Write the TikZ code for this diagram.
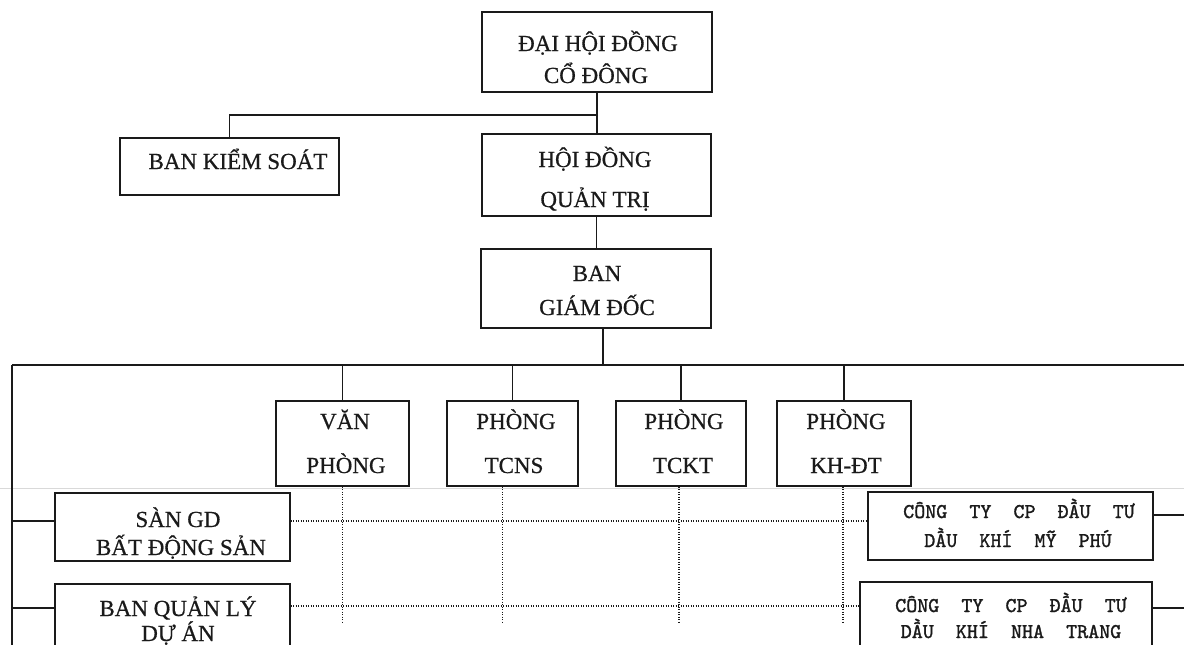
\documentclass[tikz,border=0pt]{standalone}
\usepackage{fontspec}
\setmainfont{Liberation Serif}[FakeBold=0.6]
\newfontfamily\monof{lmmono10-regular.otf}[FakeBold=1.4]
\definecolor{ink}{HTML}{1A1A1A}
\begin{document}
\begin{tikzpicture}[x=1pt,y=-1pt,
  box/.style={draw=ink, line width=1.2pt, inner sep=0pt},
  sf/.style={font=\fontsize{23}{23}\selectfont, text=ink, inner sep=0pt, anchor=base},
  mf/.style={font=\monof\fontsize{21}{21}\selectfont, text=ink, inner sep=0pt, anchor=base},
  conn/.style={draw=ink, line width=1.2pt},
  dotln/.style={draw=ink, line width=1.3pt, dash pattern=on 1.1pt off 1.4pt},
  scanln/.style={draw=gray!30, line width=0.8pt}]
\useasboundingbox (0,0) rectangle (1184,645);
\clip (0,0) rectangle (1184,645);
% boxes
\node[box, minimum width=230pt, minimum height=80pt] (dh) at (597,52) {};
\node[box, minimum width=219pt, minimum height=57pt] (bks) at (229.5,166.5) {};
\node[box, minimum width=229pt, minimum height=82pt] (hq) at (596.5,175) {};
\node[box, minimum width=230pt, minimum height=79pt] (bg) at (596,288.5) {};
\node[box, minimum width=133pt, minimum height=85pt] (vp) at (342.5,443.5) {};
\node[box, minimum width=131pt, minimum height=85pt] (tcns) at (512.5,443.5) {};
\node[box, minimum width=130pt, minimum height=85pt] (tckt) at (681,443.5) {};
\node[box, minimum width=134pt, minimum height=85pt] (khdt) at (844,443.5) {};
\node[box, minimum width=235pt, minimum height=68pt] (sgd) at (172.5,527) {};
\node[box, minimum width=235pt, minimum height=84pt] (bql) at (172.5,626) {};
\node[box, minimum width=285pt, minimum height=68pt] (mp) at (1010.5,526) {};
\node[box, minimum width=292pt, minimum height=88pt] (nt) at (1006,626) {};
% texts
\node[sf] (dh1) at (598,51) {ĐẠI HỘI ĐỒNG};
\node[sf] (dh2) at (596,83) {CỔ ĐÔNG};
\node[sf] (bks1) at (238,169) {BAN KIỂM SOÁT};
\node[sf] (hq1) at (595,167) {HỘI ĐỒNG};
\node[sf] (hq2) at (595,207) {QUẢN TRỊ};
\node[sf] (bg1) at (597,281) {BAN};
\node[sf] (bg2) at (597,315) {GIÁM ĐỐC};
\node[sf] (vp1) at (345,429) {VĂN};
\node[sf] (vp2) at (346,473) {PHÒNG};
\node[sf] (tcns1) at (516,429) {PHÒNG};
\node[sf] (tcns2) at (514,473) {TCNS};
\node[sf] (tckt1) at (684,429) {PHÒNG};
\node[sf] (tckt2) at (683,473) {TCKT};
\node[sf] (khdt1) at (846,429) {PHÒNG};
\node[sf] (khdt2) at (846,473) {KH-ĐT};
\node[sf] (sgd1) at (178,527) {SÀN GD};
\node[sf] (sgd2) at (181,555) {BẤT ĐỘNG SẢN};
\node[sf] (bql1) at (178,616) {BAN QUẢN LÝ};
\node[sf] (bql2) at (178,641) {DỰ ÁN};
\node[mf] (mp1) at (1019,518) {CÔNG\ \ TY\ \ CP\ \ ĐẦU\ \ TƯ};
\node[mf] (mp2) at (1018,547) {DẦU\ \ KHÍ\ \ MỸ\ \ PHÚ};
\node[mf] (nt1) at (1011,612) {CÔNG\ \ TY\ \ CP\ \ ĐẦU\ \ TƯ};
\node[mf] (nt2) at (1011,638) {DẦU\ \ KHÍ\ \ NHA\ \ TRANG};
% coordinates
\coordinate (j1) at (598,115);
\coordinate (busL) at (12,365);
\coordinate (busR) at (1184,365);
\coordinate (leftEnd) at (12,645);
\coordinate (dotEnd) at (0,622);
\coordinate (scanL) at (0,488);
\coordinate (scanR) at (1184,488);
% faint scan line
\draw[scanln] (scanL) -- (scanR);
% connectors
\draw[conn] (dh.south) -- (dh.south |- hq.north);
\draw[conn] (j1) -| (bks.north);
\draw[conn] (hq.south) -- (hq.south |- bg.north);
\draw[conn] ([xshift=7pt]bg.south) -- ([xshift=7pt]bg.south |- busL);
\draw[conn] (busL) -- (busR);
\draw[conn] (busL) -- (leftEnd);
\foreach \n in {vp,tcns,tckt,khdt} \draw[conn] (\n.north) -- (\n.north |- busL);
\draw[conn] ([yshift=6pt]sgd.west) -- ([yshift=6pt]sgd.west -| busL);
\draw[conn] ([yshift=18pt]bql.west) -- ([yshift=18pt]bql.west -| busL);
\draw[conn] ([yshift=11pt]mp.east) -- ([yshift=11pt]mp.east -| busR);
\draw[conn] ([yshift=18pt]nt.east) -- ([yshift=18pt]nt.east -| busR);
% dotted
\draw[dotln] ([yshift=6pt]sgd.east) -- ([yshift=5pt]mp.west);
\draw[dotln] ([yshift=20pt]bql.east) -- ([yshift=20pt]nt.west);
\draw[dotln] (vp.south) -- (vp.south |- dotEnd);
\draw[dotln] ([xshift=-10pt]tcns.south) -- ([xshift=-10pt]tcns.south |- dotEnd);
\draw[dotln] ([xshift=-2pt]tckt.south) -- ([xshift=-2pt]tckt.south |- dotEnd);
\draw[dotln] ([xshift=-1pt]khdt.south) -- ([xshift=-1pt]khdt.south |- dotEnd);
\end{tikzpicture}
\end{document}
